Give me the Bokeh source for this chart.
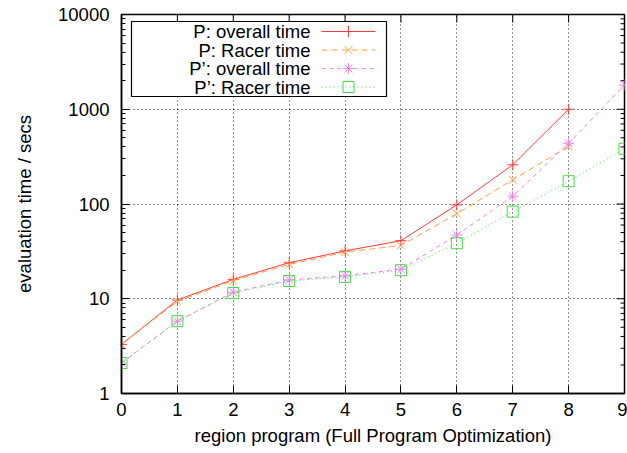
import math
from bokeh.plotting import figure
from bokeh.models import Range1d, LinearScale, FixedTicker, PrintfTickFormatter
from bokeh.embed import file_html
from bokeh.resources import INLINE

# ---- data ----
x_p = [0, 1, 2, 3, 4, 5, 6, 7, 8]
x_pp = [0, 1, 2, 3, 4, 5, 6, 7, 8, 9]
p_overall = [3.3, 9.7, 16, 24, 32, 41, 98, 259, 1000]
p_racer = [3.3, 9.4, 15.5, 23, 31, 36.5, 79, 180, 405]
pp_overall = [2.1, 5.8, 11.7, 15.8, 17.5, 20.5, 47, 121, 438, 1800]
pp_racer = [2.1, 5.8, 11.5, 15.4, 17, 20, 38.5, 83, 174, 383]
legend_labels = ["P: overall time", "P: Racer time", "P\u2019: overall time", "P\u2019: Racer time"]
x_ticks = [0, 1, 2, 3, 4, 5, 6, 7, 8, 9]
y_ticks = [1, 10, 100, 1000, 10000]

FONT = "Liberation Sans"
FS = "18.5px"
colors = ["#ff3a3a", "#ffa040", "#ee82ee", "#40dd40"]
dashes = ["solid", "6 4", "4 4", "1 3"]
markers = ["cross", "x", "asterisk", "square"]

W, H = 627, 453
ML, MR, MT, MB = 121, 3, 14, 60
FW, FH = W - ML - MR, H - MT - MB

p = figure(width=W, height=H, y_axis_type="log", x_range=Range1d(0, 9),
           y_range=Range1d(1, 10000), output_backend="svg", toolbar_location=None,
           min_border_left=ML, min_border_right=MR, min_border_top=MT,
           min_border_bottom=MB)
p.outline_line_color = "black"
p.outline_line_width = 1.5

minor = [k * 10 ** e for e in range(4) for k in range(2, 10)]
yt = FixedTicker(ticks=y_ticks, minor_ticks=minor)
xt = FixedTicker(ticks=x_ticks)

def style_axis(ax):
    ax.axis_line_color = "black"
    ax.axis_line_width = 1.5
    ax.major_tick_in = 8
    ax.major_tick_out = 0
    ax.minor_tick_in = 4
    ax.minor_tick_out = 0
    ax.major_tick_line_color = "black"
    ax.minor_tick_line_color = "black"
    ax.major_label_text_font = FONT
    ax.major_label_text_font_size = FS
    ax.major_label_text_color = "black"
    ax.axis_label_text_font = FONT
    ax.axis_label_text_font_size = FS
    ax.axis_label_text_font_style = "normal"
    ax.axis_label_text_color = "black"

p.xaxis.ticker = xt
p.yaxis.ticker = yt
p.yaxis.formatter = PrintfTickFormatter(format="%d")
style_axis(p.xaxis[0])
style_axis(p.yaxis[0])
p.xaxis.axis_label = "region program (Full Program Optimization)"
p.yaxis.axis_label = "evaluation time / secs"
p.xaxis.major_label_standoff = 9
p.xaxis.axis_label_standoff = 6
p.yaxis.major_label_standoff = 12
p.yaxis.axis_label_standoff = 20

for g in (p.xgrid[0], p.ygrid[0]):
    g.grid_line_color = "black"
    g.grid_line_dash = "1 3"
    g.grid_line_width = 1
    g.grid_line_alpha = 0.9
p.xgrid.ticker = xt
p.ygrid.ticker = yt

series = [(x_p, p_overall), (x_p, p_racer), (x_pp, pp_overall), (x_pp, pp_racer)]
for (xs, ys), c, d, m in zip(series, colors, dashes, markers):
    p.line(xs, ys, line_color=c, line_dash=d, line_width=1)
    p.scatter(xs, ys, marker=m, size=11, line_color=c, fill_color=None, line_width=1)

# ---- frame pixel coordinates for mirror ticks and legend ----
p.extra_x_ranges = {"px": Range1d(0, FW)}
p.extra_y_ranges = {"px": Range1d(0, FH)}
p.extra_x_scales = {"px": LinearScale()}
p.extra_y_scales = {"px": LinearScale()}
kw = dict(x_range_name="px", y_range_name="px")

# mirror ticks on top and right borders
tx = [t / 9 * FW for t in x_ticks]
p.segment(x0=tx, x1=tx, y0=[FH - 8] * len(tx), y1=[FH] * len(tx),
          line_color="black", line_width=1, **kw)
ty = [math.log10(t) / 4 * FH for t in y_ticks]
p.segment(x0=[FW - 8] * len(ty), x1=[FW] * len(ty), y0=ty, y1=ty,
          line_color="black", line_width=1, **kw)
tm = [math.log10(t) / 4 * FH for t in minor]
p.segment(x0=[FW - 4] * len(tm), x1=[FW] * len(tm), y0=tm, y1=tm,
          line_color="black", line_width=1, **kw)

# legend
p.quad(left=[10], right=[265], bottom=[FH - 82], top=[FH - 7], fill_color="white",
       line_color="black", line_width=1.2, **kw)
rows = [FH - 17, FH - 35.5, FH - 54, FH - 72.5]
p.text(x=[189] * 4, y=rows, text=legend_labels, text_align="right",
       text_baseline="middle", text_font={"value": FONT},
       text_font_size={"value": FS}, text_color="black", **kw)
for r, c, d, m in zip(rows, colors, dashes, markers):
    p.segment(x0=[200], x1=[254], y0=[r], y1=[r], line_color=c, line_dash=d,
              line_width=1, **kw)
    p.scatter(x=[227], y=[r], marker=m, size=11, line_color=c, fill_color=None, **kw)

open("out.html", "w").write(file_html(p, INLINE))
